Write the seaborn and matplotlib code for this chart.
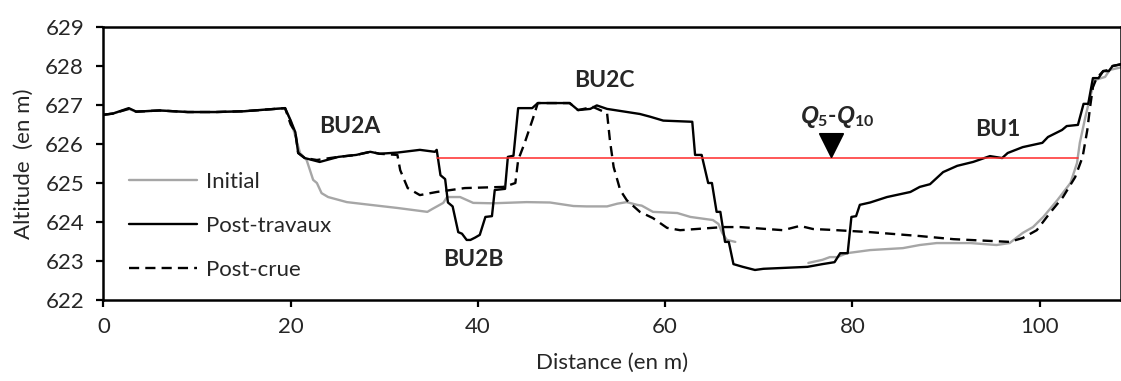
import pandas as pd
import matplotlib
matplotlib.use("Agg")
import matplotlib.pyplot as plt
import seaborn as sns

# profile data (distance in m, altitude in m)
x_travaux = [0, 1, 2.7, 3.5, 6, 9, 12, 15, 19.4, 20.0, 20.5, 20.8, 21.5, 23.1, 25.1, 27, 28.5,
             29.5, 31.4, 33.8, 35.4, 35.6, 36.0, 36.5, 36.8, 37.3, 37.9, 38.3, 38.8, 39.2, 39.7,
             40.2, 40.8, 41.5, 41.8, 42.9, 43.2, 43.8, 44.3, 45.8, 46.4, 49.8, 50.7, 52.0, 52.7,
             53.8, 57.3, 58.4, 59.8, 62.9, 63.2, 63.9, 64.6, 65.0, 65.5, 65.9, 66.4, 66.8, 67.3,
             68.3, 69.6, 70.5, 75.2, 76.8, 78.1, 78.7, 79.5, 79.9, 80.4, 80.8, 81.9, 83.7, 86.2,
             87.2, 88.3, 89.7, 91.2, 92.9, 94.7, 96.0, 96.6, 98.2, 100.3, 100.9, 102.4, 102.9,
             104.1, 104.7, 105.2, 105.7, 106.3, 106.8, 107.4, 107.8, 108.8]
y_travaux = [626.75, 626.78, 626.92, 626.83, 626.86, 626.82, 626.82, 626.84, 626.92, 626.6,
             626.3, 625.77, 625.64, 625.54, 625.67, 625.72, 625.8, 625.75, 625.78, 625.85, 625.8,
             625.85, 625.2, 625.1, 624.5, 624.4, 623.74, 623.7, 623.54, 623.54, 623.6, 623.67,
             624.13, 624.15, 624.82, 624.85, 625.67, 625.7, 626.92, 626.92, 627.05, 627.05,
             626.87, 626.9, 626.99, 626.9, 626.77, 626.7, 626.6, 626.57, 625.72, 625.72, 625.0,
             625.0, 624.26, 624.26, 623.49, 623.49, 622.92, 622.85, 622.77, 622.8, 622.85,
             622.92, 622.97, 623.2, 623.2, 624.13, 624.15, 624.44, 624.5, 624.64, 624.77, 624.9,
             624.97, 625.28, 625.44, 625.54, 625.69, 625.64, 625.77, 625.92, 626.03, 626.18,
             626.36, 626.46, 626.49, 627.03, 627.03, 627.69, 627.69, 627.87, 627.87, 628.0, 628.05]

x_initial_a = [0, 1, 2.7, 3.5, 6, 9, 12, 15, 19.4, 20.0, 20.5, 21.0, 21.7, 22.4, 22.8, 23.3,
               24.0, 26.0, 28.5, 31.4, 34.6, 35.1, 36.3, 36.7, 38.1, 39.5, 41.6, 45.2, 47.7,
               50.2, 51.6, 53.8, 54.9, 55.9, 57.0, 57.5, 58.7, 61.3, 62.7, 65.1, 65.7, 66.1,
               66.6, 67.5]
y_initial_a = [626.75, 626.78, 626.9, 626.83, 626.86, 626.82, 626.82, 626.84, 626.92, 626.6,
               626.2, 625.77, 625.59, 625.08, 625.0, 624.74, 624.64, 624.51, 624.44, 624.36,
               624.26, 624.33, 624.49, 624.64, 624.64, 624.49, 624.48, 624.51, 624.5, 624.41,
               624.4, 624.4, 624.47, 624.51, 624.44, 624.42, 624.26, 624.23, 624.13, 624.05,
               623.95, 623.72, 623.54, 623.49]
x_initial_b = [75.3, 76.8, 77.6, 78.4, 79.4, 81.9, 85.4, 87.2, 89.0, 92.6, 95.4, 96.8, 98.2,
               99.3, 100.4, 101.9, 103.3, 104.0, 104.3, 104.9, 105.4, 105.9, 107.0, 107.5, 108.8]
y_initial_b = [622.95, 623.03, 623.1, 623.1, 623.2, 623.28, 623.33, 623.41, 623.46, 623.46,
               623.41, 623.46, 623.72, 623.87, 624.13, 624.56, 625.0, 625.51, 626.03, 626.7,
               627.2, 627.64, 627.72, 627.9, 627.97]

x_crue = [0, 1, 2.7, 3.5, 6, 9, 12, 15, 19.4, 20.0, 20.5, 20.8, 21.5, 22.8, 24.2, 25.1, 27,
          28.5, 29.5, 31.4, 31.7, 32.5, 33.8, 35.6, 38.6, 42.7, 43.4, 44.0, 44.3, 45.0, 45.9,
          46.4, 49.8, 50.7, 52.3, 53.8, 54.1, 54.5, 55.2, 55.9, 57.3, 58.7, 60.2, 61.6, 66.2,
          68.0, 72.6, 74.4, 75.8, 77.6, 81.9, 87.2, 90.8, 95.1, 96.8, 98.2, 99.7, 101.1, 102.5,
          103.8, 104.6, 105.1, 105.4, 105.7, 106.1, 106.8, 107.4, 107.8, 108.8]
y_crue = [626.75, 626.78, 626.9, 626.83, 626.86, 626.82, 626.82, 626.84, 626.92, 626.5, 626.3,
          625.77, 625.64, 625.59, 625.64, 625.67, 625.72, 625.8, 625.75, 625.72, 625.33, 624.87,
          624.69, 624.77, 624.87, 624.9, 624.95, 625.0, 625.59, 626.03, 626.67, 627.05, 627.05,
          626.87, 626.95, 626.79, 626.1, 625.41, 624.82, 624.56, 624.26, 624.1, 623.85, 623.79,
          623.87, 623.87, 623.79, 623.9, 623.82, 623.8, 623.74, 623.64, 623.56, 623.51, 623.49,
          623.59, 623.79, 624.23, 624.64, 625.15, 625.67, 626.36, 626.95, 627.46, 627.69,
          627.87, 627.9, 628.0, 628.05]

# flood level Q5-Q10
x_flood = [35.6, 104.1]
y_flood = [625.65, 625.65]
flood_marker_x = [77.7]
flood_marker_y = [625.97]

labels = ["BU2A", "BU2B", "BU2C", "BU1"]
labels_x = [26.3, 39.5, 53.5, 95.5]
labels_y = [626.45, 623.05, 627.64, 626.36]

sns.set_style("ticks")
plt.rcParams["font.family"] = ["Lato", "DejaVu Sans"]
plt.rcParams["mathtext.fontset"] = "custom"
plt.rcParams["mathtext.rm"] = "Lato:bold"
plt.rcParams["mathtext.it"] = "Liberation Sans:italic:bold"
plt.rcParams["mathtext.bf"] = "Lato:bold"

fig = plt.figure(figsize=(11.21, 3.81), dpi=100)
ax = fig.add_axes([0.0923, 0.2126, 0.9077, 0.7165])

grey = "#a6a6a6"
lw = 1.7
sns.lineplot(x=x_initial_a, y=y_initial_a, color=grey, lw=lw, estimator=None, sort=False,
             ax=ax, label="Initial")
sns.lineplot(x=x_initial_b, y=y_initial_b, color=grey, lw=lw, estimator=None, sort=False,
             ax=ax)
sns.lineplot(x=x_travaux, y=y_travaux, color="black", lw=lw, estimator=None, sort=False,
             ax=ax, label="Post-travaux")
sns.lineplot(x=x_crue, y=y_crue, color="black", lw=lw, linestyle=(0, (4.3, 2.6)),
             estimator=None, sort=False, ax=ax, label="Post-crue")
sns.lineplot(x=x_flood, y=y_flood, color="#ff2a2a", lw=1.1, estimator=None, sort=False, ax=ax)
sns.scatterplot(x=flood_marker_x, y=flood_marker_y, marker="v", s=280, color="black",
                edgecolor="black", ax=ax, zorder=5)

for lab, lx, ly in zip(labels, labels_x, labels_y):
    ax.text(lx, ly, lab, ha="center", va="center", fontsize=16.5, fontweight="bold")
ax.text(78.4, 626.7, r"$Q_5$-$Q_{10}$", ha="center", va="center", fontsize=16.5,
        fontweight="bold")

ax.set_xlim(0, 108.7)
ax.set_ylim(622, 629)
ax.set_xticks([0, 20, 40, 60, 80, 100])
ax.set_yticks(range(622, 630))
ax.set_xlabel("Distance (en m)", fontsize=16, labelpad=12)
ax.set_ylabel("Altitude  (en m)", fontsize=16, labelpad=8)
ax.tick_params(axis="both", labelsize=16, length=5, width=1.6, direction="out",
               color="black")
ax.tick_params(axis="y", pad=9)
ax.tick_params(axis="x", pad=7)
for sp in ax.spines.values():
    sp.set_visible(True)
    sp.set_linewidth(1.8)
    sp.set_color("black")

ax.legend(loc="center left", bbox_to_anchor=(0.025, 0.271), frameon=False, fontsize=16,
          handlelength=3.06, handletextpad=0.4, labelspacing=1.08, borderpad=0,
          borderaxespad=0)

fig.savefig("out.png", dpi=100)
